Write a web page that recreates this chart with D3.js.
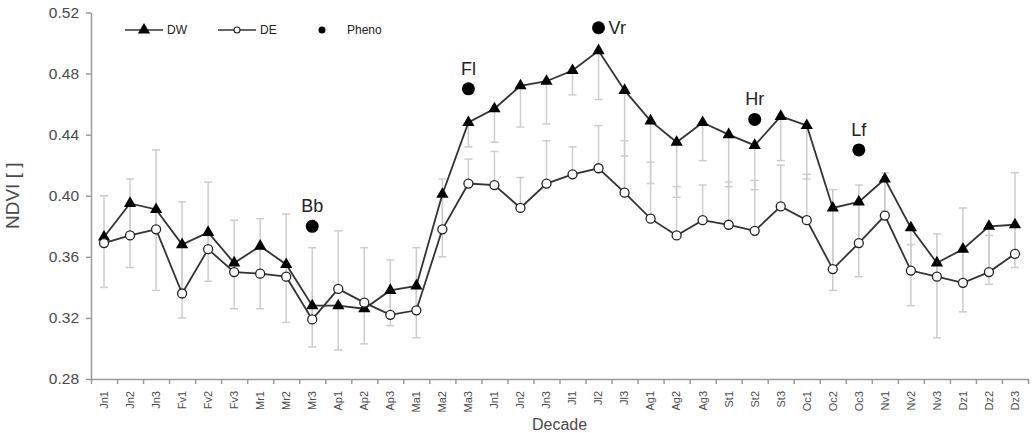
<!DOCTYPE html>
<html>
<head>
<meta charset="utf-8">
<script src="https://cdn.jsdelivr.net/npm/d3@7"></script>
<style>
  body { margin: 0; background: #fff; }
  svg { font-family: "Liberation Sans", Arial, sans-serif; }
</style>
</head>
<body>
<svg width="1035" height="433"></svg>
<script>
// decades of the year
const decades = ['Jn1','Jn2','Jn3','Fv1','Fv2','Fv3','Mr1','Mr2','Mr3','Ap1','Ap2','Ap3',
  'Ma1','Ma2','Ma3','Jn1','Jn2','Jn3','Jl1','Jl2','Jl3','Ag1','Ag2','Ag3',
  'St1','St2','St3','Oc1','Oc2','Oc3','Nv1','Nv2','Nv3','Dz1','Dz2','Dz3'];

const dwValues = [0.373,0.395,0.391,0.368,0.376,0.356,0.367,0.355,0.328,0.328,0.326,0.338,
  0.341,0.401,0.448,0.457,0.472,0.475,0.482,0.495,0.469,0.449,0.435,0.448,
  0.440,0.433,0.452,0.446,0.392,0.396,0.411,0.379,0.356,0.365,0.380,0.381];
const dwLower = [0.340,0.353,0.338,0.320,0.344,0.326,0.326,0.317,0.301,0.299,0.303,0.315,
  0.307,0.360,0.432,0.435,0.445,0.447,0.466,0.463,0.426,0.408,0.399,0.423,
  0.406,0.404,0.423,0.411,0.338,0.347,0.390,0.328,0.307,0.324,0.342,0.353];

const deValues = [0.369,0.374,0.378,0.336,0.365,0.350,0.349,0.347,0.319,0.339,0.330,0.322,
  0.325,0.378,0.408,0.407,0.392,0.408,0.414,0.418,0.402,0.385,0.374,0.384,
  0.381,0.377,0.393,0.384,0.352,0.369,0.387,0.351,0.347,0.343,0.350,0.362];
const deUpper = [0.400,0.411,0.430,0.396,0.409,0.384,0.385,0.388,0.366,0.377,0.366,0.358,
  0.366,0.411,0.424,0.429,0.412,0.436,0.432,0.446,0.436,0.422,0.406,0.407,
  0.409,0.410,0.420,0.414,0.404,0.407,0.415,0.368,0.375,0.392,0.374,0.415];

const phenoIndex = [8, 14, 19, 25, 29];
const phenoValues = [0.38, 0.47, 0.51, 0.45, 0.43];
const phenoLabels = ['Bb', 'Fl', 'Vr', 'Hr', 'Lf'];

const yTicks = [0.28, 0.32, 0.36, 0.40, 0.44, 0.48, 0.52];

const margin = { top: 12.5, right: 7, bottom: 54, left: 91 };
const width = 1035, height = 433;
const svg = d3.select('svg');

const x = d3.scaleBand().domain(d3.range(decades.length))
  .range([margin.left, width - margin.right]).padding(0);
const xEdge = d3.scaleLinear().domain([0, decades.length]).range(x.range());
const y = d3.scaleLinear().domain([0.28, 0.52]).range([height - margin.bottom, margin.top]);
const cx = i => x(i) + x.bandwidth() / 2;

const axisColor = '#9a9a9a';
const textColor = '#4a4a4a';

//y axis
const yAxis = svg.append('g').attr('transform', `translate(${margin.left},0)`)
  .call(d3.axisLeft(y).tickValues(yTicks).tickFormat(d3.format('.2f')).tickSize(5).tickSizeOuter(0));
yAxis.selectAll('path, line').attr('stroke', axisColor).attr('stroke-width', 1.5);
yAxis.selectAll('text').attr('fill', textColor).attr('font-size', 15.5).attr('x', -12);

//x axis: ticks between the decades
const xAxis = svg.append('g').attr('transform', `translate(0,${height - margin.bottom})`)
  .call(d3.axisBottom(xEdge).tickValues(d3.range(decades.length + 1)).tickFormat('').tickSize(5).tickSizeOuter(0));
xAxis.selectAll('path, line').attr('stroke', axisColor).attr('stroke-width', 1.5);

//x labels
const xLabels = svg.append('g').attr('transform', `translate(0,${height - margin.bottom})`)
  .call(d3.axisBottom(x).tickFormat(i => decades[i]).tickSize(0));
xLabels.select('.domain').remove();
xLabels.selectAll('text')
  .attr('fill', textColor).attr('font-size', 11)
  .attr('transform', 'rotate(-90)')
  .attr('x', -12).attr('y', 0).attr('dy', '0.35em')
  .attr('text-anchor', 'end');

//axis titles
svg.append('text')
  .attr('transform', `translate(19,${(margin.top + height - margin.bottom) / 2}) rotate(-90)`)
  .attr('text-anchor', 'middle').attr('font-size', 19).attr('fill', textColor)
  .text('NDVI [ ]');
svg.append('text')
  .attr('x', (margin.left + width - margin.right) / 2).attr('y', 430)
  .attr('text-anchor', 'middle').attr('font-size', 16).attr('fill', textColor)
  .text('Decade');

//error bars
const errColor = '#cccccc';
const capW = 4;
const errorBars = (vals, ends) => {
  const g = svg.append('g').attr('stroke', errColor).attr('stroke-width', 1.5);
  vals.forEach((v, i) => {
    g.append('line').attr('x1', cx(i)).attr('x2', cx(i)).attr('y1', y(v)).attr('y2', y(ends[i]));
    g.append('line').attr('x1', cx(i) - capW).attr('x2', cx(i) + capW)
      .attr('y1', y(ends[i])).attr('y2', y(ends[i]));
  });
};
errorBars(dwValues, dwLower);
errorBars(deValues, deUpper);

//lines
const line = d3.line().x((d, i) => cx(i)).y(d => y(d));
[dwValues, deValues].forEach(vals => {
  svg.append('path').datum(vals)
    .attr('d', line).attr('fill', 'none')
    .attr('stroke', '#333').attr('stroke-width', 1.8);
});

//markers
const tri = d3.symbol().type(d3.symbolTriangle).size(65);
svg.append('g').selectAll('path').data(dwValues).enter().append('path')
  .attr('d', tri)
  .attr('transform', (d, i) => `translate(${cx(i)},${y(d)})`)
  .attr('fill', '#000');
svg.append('g').selectAll('circle').data(deValues).enter().append('circle')
  .attr('cx', (d, i) => cx(i)).attr('cy', d => y(d)).attr('r', 4.5)
  .attr('fill', '#fff').attr('stroke', '#222').attr('stroke-width', 1.3);

//pheno points
const pheno = svg.append('g').selectAll('g').data(phenoIndex).enter().append('g')
  .attr('transform', (d, k) => `translate(${cx(d)},${y(phenoValues[k])})`);
pheno.append('circle').attr('r', 6.5).attr('fill', '#000');
pheno.append('text')
  .attr('x', (d, k) => phenoLabels[k] === 'Vr' ? 10 : 0)
  .attr('y', (d, k) => phenoLabels[k] === 'Vr' ? 0 : -14)
  .attr('dy', (d, k) => phenoLabels[k] === 'Vr' ? '0.35em' : 0)
  .attr('text-anchor', (d, k) => phenoLabels[k] === 'Vr' ? 'start' : 'middle')
  .attr('font-size', 18).attr('fill', '#222')
  .text((d, k) => phenoLabels[k]);

//legend
const legend = svg.append('g').attr('transform', 'translate(125,30)');
const legendItem = (x0, label) => {
  legend.append('line').attr('x1', x0).attr('x2', x0 + 38).attr('y1', 0).attr('y2', 0)
    .attr('stroke', '#333').attr('stroke-width', 1.6);
  legend.append('text').attr('x', x0 + 42).attr('y', 0).attr('dy', '0.35em')
    .attr('font-size', 12).attr('fill', '#222').text(label);
};
legendItem(0, 'DW');
legend.append('path').attr('d', tri).attr('transform', 'translate(19,0)').attr('fill', '#000');
legendItem(93, 'DE');
legend.append('circle').attr('cx', 112).attr('cy', 0).attr('r', 3)
  .attr('fill', '#fff').attr('stroke', '#222').attr('stroke-width', 1.1);
legend.append('circle').attr('cx', 197).attr('cy', 0).attr('r', 3.5).attr('fill', '#000');
legend.append('text').attr('x', 222).attr('y', 0).attr('dy', '0.35em')
  .attr('font-size', 12).attr('fill', '#222').text('Pheno');
</script>
</body>
</html>
